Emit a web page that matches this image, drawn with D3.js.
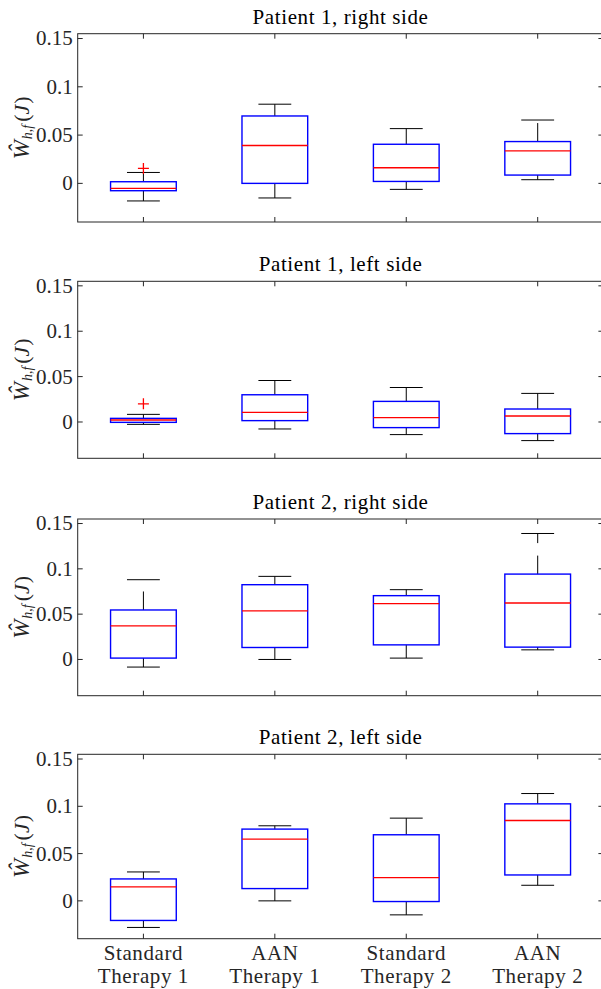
<!DOCTYPE html>
<html><head><meta charset="utf-8">
<script src="https://cdn.jsdelivr.net/npm/d3@7"></script>
<style>html,body{margin:0;padding:0;background:#fff;}svg{display:block;}</style>
</head><body><div id="chart"></div>
<script>
const categories = [["Standard","Therapy 1"],["AAN","Therapy 1"],["Standard","Therapy 2"],["AAN","Therapy 2"]];
const panelTitles = ["Patient 1, right side","Patient 1, left side","Patient 2, right side","Patient 2, left side"];
const upperWhisker = [
  [0.0113, 0.0820, 0.0567, 0.0656],
  [0.0084, 0.0457, 0.0380, 0.0315],
  [0.0880, 0.0917, 0.0770, 0.1390],
  [0.0306, 0.0794, 0.0875, 0.1135]
];
const q3 = [
  [0.0017, 0.0698, 0.0405, 0.0433],
  [0.0040, 0.0300, 0.0227, 0.0143],
  [0.0546, 0.0825, 0.0704, 0.0942],
  [0.0232, 0.0759, 0.0699, 0.1026]
];
const medians = [
  [-0.0052, 0.0392, 0.0162, 0.0337],
  [0.0022, 0.0106, 0.0048, 0.0066],
  [0.0370, 0.0535, 0.0616, 0.0623],
  [0.0148, 0.0653, 0.0246, 0.0850]
];
const q1 = [
  [-0.0076, 0.0000, 0.0020, 0.0086],
  [-0.0004, 0.0015, -0.0062, -0.0128],
  [0.0015, 0.0132, 0.0161, 0.0136],
  [-0.0207, 0.0130, -0.0007, 0.0274]
];
const lowerWhisker = [
  [-0.0182, -0.0151, -0.0062, 0.0038],
  [-0.0026, -0.0077, -0.0139, -0.0205],
  [-0.0084, 0.0000, 0.0015, 0.0106],
  [-0.0281, 0.0000, -0.0148, 0.0165]
];
const outliers = [
  [{cat: 0, value: 0.0155}],
  [{cat: 0, value: 0.0200}],
  [],
  []
];
const yTickValues = [0, 0.05, 0.1, 0.15];
const yTickLabels = ["0", "0.05", "0.1", "0.15"];
const yDomain = [-0.04, 0.155];

const W = 601, H = 989;
const panelBounds = [[33.7, 222], [281.3, 458.3], [519, 695.7], [754.3, 938.7]];
const axLeft = 77.7, axRight = 603.4;
const axisColor = "#262626";
const font = "Liberation Serif, Times New Roman, Times, DejaVu Serif, serif";

const svg = d3.select("#chart").append("svg").attr("width", W).attr("height", H);

const x = d3.scaleLinear().domain([0.5, 4.5]).range([axLeft, axRight]);
const step = x(2) - x(1);
const boxW = step * 0.5, capW = step * 0.25;

panelTitles.forEach((title, p) => {
  const [top, bottom] = panelBounds[p];
  const y = d3.scaleLinear().domain(yDomain).range([bottom, top]);
  const g = svg.append("g");

  g.append("rect").attr("x", axLeft).attr("y", top).attr("width", axRight - axLeft).attr("height", bottom - top)
    .attr("fill", "none").attr("stroke", axisColor).attr("stroke-width", 1);

  const tl = 5;
  yTickValues.forEach((v, i) => {
    g.append("line").attr("x1", axLeft).attr("x2", axLeft + tl).attr("y1", y(v)).attr("y2", y(v)).attr("stroke", axisColor);
    g.append("line").attr("x1", axRight).attr("x2", axRight - tl).attr("y1", y(v)).attr("y2", y(v)).attr("stroke", axisColor);
    g.append("text").attr("x", axLeft - 5).attr("y", y(v)).attr("dy", "0.33em").attr("text-anchor", "end")
      .attr("font-family", font).attr("font-size", 21).attr("fill", axisColor).text(yTickLabels[i]);
  });
  categories.forEach((c, i) => {
    const cx = x(i + 1);
    g.append("line").attr("x1", cx).attr("x2", cx).attr("y1", bottom).attr("y2", bottom - tl).attr("stroke", axisColor);
    g.append("line").attr("x1", cx).attr("x2", cx).attr("y1", top).attr("y2", top + tl).attr("stroke", axisColor);
  });

  g.append("text").attr("x", (axLeft + axRight) / 2).attr("y", top - 10).attr("text-anchor", "middle")
    .attr("font-family", font).attr("font-size", 21).attr("letter-spacing", 0.6).attr("fill", "#000").text(title);

  const cy = (top + bottom) / 2;
  const lab = g.append("text").attr("transform", `translate(29,${cy}) rotate(-90)`).attr("text-anchor", "middle")
    .attr("font-family", font).attr("font-size", 22).attr("fill", axisColor);
  lab.append("tspan").attr("font-style", "italic").attr("font-size", 23).text("Ŵ");
  lab.append("tspan").attr("font-style", "italic").attr("font-size", 14).attr("dy", 3).attr("dx", 1).text("h,f");
  lab.append("tspan").attr("dy", -3).attr("dx", 3).text("(");
  lab.append("tspan").attr("font-style", "italic").text("J");
  lab.append("tspan").attr("dx", 1).text(")");

  categories.forEach((c, i) => {
    const cx = x(i + 1);
    const bg = g.append("g");
    bg.append("line").attr("x1", cx).attr("x2", cx).attr("y1", y(q3[p][i])).attr("y2", y(upperWhisker[p][i]))
      .attr("stroke", "#000").attr("stroke-width", 1).attr("stroke-dasharray", "18.5,12.5");
    bg.append("line").attr("x1", cx).attr("x2", cx).attr("y1", y(q1[p][i])).attr("y2", y(lowerWhisker[p][i]))
      .attr("stroke", "#000").attr("stroke-width", 1).attr("stroke-dasharray", "18.5,12.5");
    [upperWhisker[p][i], lowerWhisker[p][i]].forEach(v => {
      bg.append("line").attr("x1", cx - capW / 2).attr("x2", cx + capW / 2).attr("y1", y(v)).attr("y2", y(v))
        .attr("stroke", "#000").attr("stroke-width", 1);
    });
    bg.append("rect").attr("x", cx - boxW / 2).attr("width", boxW)
      .attr("y", y(q3[p][i])).attr("height", Math.max(0.5, y(q1[p][i]) - y(q3[p][i])))
      .attr("fill", "none").attr("stroke", "#0000ff").attr("stroke-width", 1.4);
    bg.append("line").attr("x1", cx - boxW / 2).attr("x2", cx + boxW / 2).attr("y1", y(medians[p][i])).attr("y2", y(medians[p][i]))
      .attr("stroke", "#ff0000").attr("stroke-width", 1.3);
  });

  outliers[p].forEach(o => {
    const ox = x(o.cat + 1), oy = y(o.value), s = 5.5;
    g.append("path").attr("d", `M${ox - s},${oy}H${ox + s}M${ox},${oy - s}V${oy + s}`)
      .attr("stroke", "#ff0000").attr("stroke-width", 1.3).attr("fill", "none");
  });

  if (p === panelTitles.length - 1) {
    categories.forEach((c, i) => {
      const t = g.append("text").attr("x", x(i + 1)).attr("text-anchor", "middle")
        .attr("font-family", font).attr("font-size", 21).attr("letter-spacing", 0.6).attr("fill", axisColor);
      t.append("tspan").attr("x", x(i + 1)).attr("y", 960).text(c[0]);
      t.append("tspan").attr("x", x(i + 1)).attr("y", 983).text(c[1]);
    });
  }
});
</script></body></html>
